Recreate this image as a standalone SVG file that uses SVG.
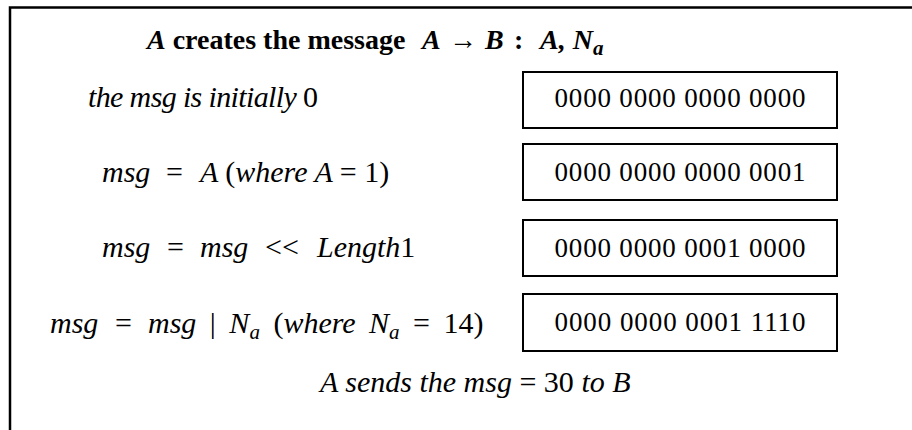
<svg xmlns="http://www.w3.org/2000/svg" width="912" height="430" viewBox="0 0 912 430">
<style>
.frame{fill:none;stroke:#000;stroke-width:2.5}
.box{fill:#fff;stroke:#000;stroke-width:2}
.bits{font-family:"Liberation Serif",serif;font-size:27px;fill:#000;text-anchor:middle}
.m{font-family:"Liberation Serif",serif;font-size:30px;fill:#000}
.t{font-family:"Liberation Serif",serif;font-size:28px;fill:#000;font-weight:bold}
.i{font-style:italic}
.n{font-style:normal}
.sub{font-size:21px}
</style>
<rect width="912" height="430" fill="#fff"/>
<path class="frame" d="M10,440 V7.5 H920"/>
<g id="title">
<text class="t" x="147" y="49"><tspan class="i">A</tspan> creates the message</text>
<text class="t i" x="422" y="49">A</text>
<text class="t" x="449" y="49">→</text>
<text class="t i" x="485" y="49">B</text>
<text class="t" x="514" y="49">:</text>
<text class="t i" x="540" y="49">A, N<tspan class="sub" font-size="23" dy="6">a</tspan></text>
</g>
<g id="row1">
<text class="m i" x="88" y="107" font-size="29" textLength="230" lengthAdjust="spacing">the msg is initially <tspan class="n">0</tspan></text>
<rect class="box" x="523" y="72" width="314" height="56"/>
<text class="bits" x="680" y="107" textLength="251">0000 0000 0000 0000</text>
</g>
<g id="row2">
<text class="m i" x="102" y="182">msg</text>
<text class="m" x="166" y="182">=</text>
<text class="m i" x="200" y="182">A <tspan class="n">(</tspan>where A <tspan class="n">= 1)</tspan></text>
<rect class="box" x="523" y="144" width="314" height="56"/>
<text class="bits" x="680" y="181" textLength="251">0000 0000 0000 0001</text>
</g>
<g id="row3">
<text class="m i" x="102" y="257">msg</text>
<text class="m" x="167" y="257">=</text>
<text class="m i" x="200" y="257">msg</text>
<text class="m" x="265" y="257">&lt;&lt;</text>
<text class="m i" x="317" y="257">Length<tspan class="n">1</tspan></text>
<rect class="box" x="523" y="220" width="314" height="56"/>
<text class="bits" x="680" y="257" textLength="251">0000 0000 0001 0000</text>
</g>
<g id="row4">
<text class="m i" x="50" y="333">msg</text>
<text class="m" x="115" y="333">=</text>
<text class="m i" x="148" y="333" word-spacing="6">msg <tspan class="n">|</tspan> N<tspan class="sub" dy="6">a</tspan><tspan dy="-6"> </tspan><tspan class="n">(</tspan>where N<tspan class="sub" dy="6">a</tspan><tspan class="n" dy="-6"> = 14)</tspan></text>
<rect class="box" x="523" y="294" width="314" height="57"/>
<text class="bits" x="680" y="331" textLength="251">0000 0000 0001 1110</text>
</g>
<g id="result">
<text class="m i" x="320" y="392">A sends the msg <tspan class="n">= 30</tspan> to B</text>
</g>
</svg>
